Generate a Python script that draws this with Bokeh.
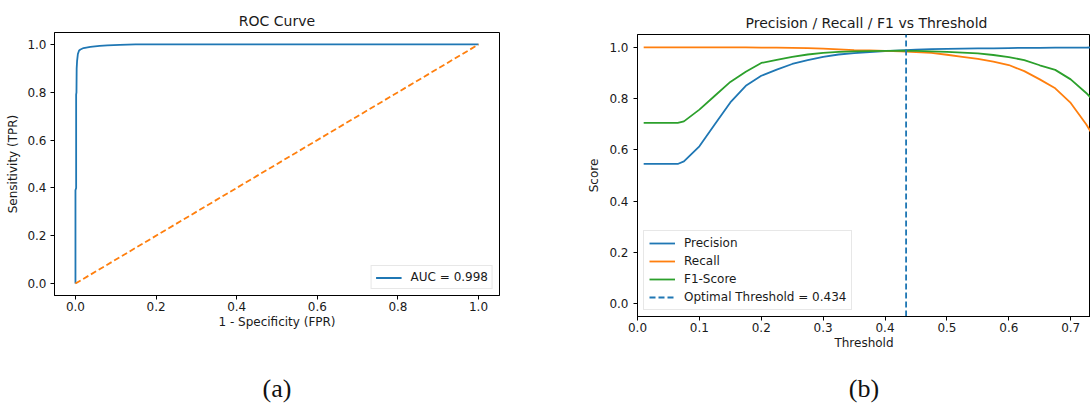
from bokeh.plotting import figure
from bokeh.layouts import row, column
from bokeh.models import (FixedTicker, PrintfTickFormatter, Legend, LegendItem,
                          LinearAxis, Range1d)
from bokeh.embed import file_html
from bokeh.resources import INLINE

# ---------------- data ----------------
roc_fpr = [0.0, 0.0, 0.0017, 0.0017, 0.0025, 0.003, 0.004, 0.006, 0.009, 0.0124,
           0.02, 0.037, 0.06, 0.079, 0.11, 0.149, 1.0]
roc_tpr = [0.0, 0.39, 0.40, 0.79, 0.80, 0.90, 0.93, 0.96, 0.975, 0.979,
           0.985, 0.990, 0.994, 0.996, 0.998, 1.0, 1.0]
auc_value = 0.998
chance_x = [0.0, 1.0]
chance_y = [0.0, 1.0]

thresholds = [0.01, 0.04, 0.065, 0.075, 0.10, 0.125, 0.15, 0.175, 0.20, 0.225,
              0.25, 0.275, 0.30, 0.325, 0.35, 0.375, 0.40, 0.425, 0.45, 0.475,
              0.50, 0.525, 0.55, 0.575, 0.60, 0.625, 0.65, 0.675, 0.70, 0.725, 0.75]
precision = [0.545, 0.545, 0.545, 0.555, 0.614, 0.700, 0.785, 0.850, 0.889, 0.913,
             0.935, 0.950, 0.963, 0.972, 0.977, 0.981, 0.985, 0.988, 0.991, 0.993,
             0.994, 0.995, 0.996, 0.996, 0.997, 0.998, 0.998, 0.999, 0.999, 0.999, 1.0]
recall = [1.0, 1.0, 1.0, 1.0, 1.0, 1.0, 1.0, 1.0, 0.999, 0.999,
          0.998, 0.997, 0.995, 0.992, 0.989, 0.988, 0.986, 0.984, 0.981, 0.978,
          0.971, 0.963, 0.955, 0.944, 0.931, 0.907, 0.875, 0.840, 0.783, 0.700, 0.600]
f1_score = [0.705, 0.705, 0.705, 0.711, 0.757, 0.811, 0.865, 0.905, 0.939, 0.951,
            0.963, 0.972, 0.978, 0.982, 0.984, 0.985, 0.986, 0.987, 0.986, 0.984,
            0.982, 0.979, 0.976, 0.970, 0.962, 0.950, 0.930, 0.912, 0.875, 0.822, 0.760]
optimal_threshold = 0.434

unit_ticks = [0.0, 0.2, 0.4, 0.6, 0.8, 1.0]
threshold_ticks = [0.0, 0.1, 0.2, 0.3, 0.4, 0.5, 0.6, 0.7]
captions = ["(a)", "(b)"]

# ---------------- style ----------------
FONT = "DejaVu Sans"
TXT = "#1a1a1a"
BLUE, ORANGE, GREEN = "#1f77b4", "#ff7f0e", "#2ca02c"
LW = 1.8


def style_axes(p):
    p.grid.visible = False
    p.outline_line_color = "black"
    p.outline_line_width = 1
    p.title.text_font = FONT
    p.title.text_font_size = "14px"
    p.title.text_font_style = "normal"
    p.title.text_color = TXT
    p.title.align = "center"
    p.title.standoff = 8
    for ax in p.axis:
        ax.axis_line_color = "black"
        ax.axis_line_width = 1
        ax.major_tick_line_color = "black"
        ax.major_tick_out = 4
        ax.major_tick_in = 0
        ax.minor_tick_line_color = None
        ax.major_label_text_font = FONT
        ax.major_label_text_font_size = "12px"
        ax.major_label_text_color = TXT
        ax.axis_label_text_font = FONT
        ax.axis_label_text_font_size = "12px"
        ax.axis_label_text_font_style = "normal"
        ax.axis_label_text_color = TXT
        ax.formatter = PrintfTickFormatter(format="%.1f")
    for ax in p.xaxis:
        ax.major_label_standoff = 2
        ax.axis_label_standoff = 1
    for ax in p.yaxis:
        ax.major_label_standoff = 4
        ax.axis_label_standoff = 4


def style_legend(lg):
    lg.label_text_font = FONT
    lg.label_text_font_size = "12px"
    lg.label_text_color = TXT
    lg.border_line_color = "#d0d0d0"
    lg.border_line_width = 1
    lg.background_fill_alpha = 0.8
    lg.glyph_width = 26
    lg.label_standoff = 9


def add_caption(p, text, standoff):
    cap = LinearAxis(ticker=FixedTicker(ticks=[]), axis_label=text,
                     axis_line_color=None, major_tick_out=0, major_tick_in=0,
                     minor_tick_out=0, minor_tick_in=0,
                     major_label_standoff=0, axis_label_standoff=standoff,
                     axis_label_text_font="Liberation Serif",
                     axis_label_text_font_size="26px",
                     axis_label_text_font_style="normal",
                     axis_label_text_color="#111111")
    p.add_layout(cap, "below")


# ---------------- (a) ROC ----------------
p1 = figure(width=580, height=406, title="ROC Curve",
            x_range=Range1d(-0.052, 1.052), y_range=Range1d(-0.05, 1.05),
            output_backend="svg", toolbar_location=None,
            min_border_left=54, min_border_right=81,
            min_border_top=32, min_border_bottom=111)
roc_line = p1.line(roc_fpr, roc_tpr, line_color=BLUE, line_width=LW)
p1.line(chance_x, chance_y, line_color=ORANGE, line_width=LW, line_dash="6 3")
p1.xaxis.axis_label = "1 - Specificity (FPR)"
p1.yaxis.axis_label = "Sensitivity (TPR)"
p1.xaxis.ticker = FixedTicker(ticks=unit_ticks)
p1.yaxis.ticker = FixedTicker(ticks=unit_ticks)
style_axes(p1)
lg1 = Legend(items=[LegendItem(label=f"AUC = {auc_value:.3f}", renderers=[roc_line])],
             location="bottom_right", margin=6, padding=4, spacing=0,
             glyph_height=13, label_height=13)
style_legend(lg1)
p1.add_layout(lg1, "center")
add_caption(p1, captions[0], 42)

# ---------------- (b) P/R/F1 ----------------
p2 = figure(width=510, height=406, title="Precision / Recall / F1 vs Threshold",
            x_range=Range1d(0.0, 0.732), y_range=Range1d(-0.05, 1.05),
            output_backend="svg", toolbar_location=None,
            min_border_left=57, min_border_right=0,
            min_border_top=34, min_border_bottom=90)
r_p = p2.line(thresholds, precision, line_color=BLUE, line_width=LW)
r_r = p2.line(thresholds, recall, line_color=ORANGE, line_width=LW)
r_f = p2.line(thresholds, f1_score, line_color=GREEN, line_width=LW)
r_t = p2.line([optimal_threshold, optimal_threshold],
              [p2.y_range.start, p2.y_range.end],
              line_color=BLUE, line_width=LW, line_dash="6 3")
p2.xaxis.axis_label = "Threshold"
p2.yaxis.axis_label = "Score"
p2.xaxis.ticker = FixedTicker(ticks=threshold_ticks)
p2.yaxis.ticker = FixedTicker(ticks=unit_ticks)
style_axes(p2)
p2.yaxis.major_label_standoff = 5
p2.yaxis.axis_label_standoff = 5
p2.title.align = "left"
p2.title.offset = 108
lg2 = Legend(items=[LegendItem(label="Precision", renderers=[r_p]),
                    LegendItem(label="Recall", renderers=[r_r]),
                    LegendItem(label="F1-Score", renderers=[r_f]),
                    LegendItem(label=f"Optimal Threshold = {optimal_threshold}", renderers=[r_t])],
             location="bottom_left", margin=6, padding=5, spacing=4,
             glyph_height=14, label_height=14)
style_legend(lg2)
p2.add_layout(lg2, "center")
add_caption(p2, captions[1], 21)

layout = row(column(p1), column(p2))
open("out.html", "w").write(file_html(layout, INLINE))
